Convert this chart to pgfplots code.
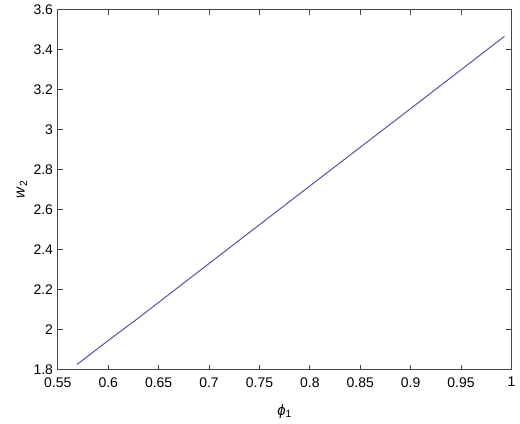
\documentclass[border=0pt]{standalone}
\usepackage{pgfplots}
\pgfplotsset{compat=1.18}
\usepackage{fontspec}
\setmainfont{Liberation Sans}
\definecolor{linecol}{RGB}{88,84,160}
\definecolor{axcol}{RGB}{70,70,70}
\begin{document}
\fontsize{14}{16}\selectfont
\begin{tikzpicture}
\begin{axis}[
    scale only axis,
    width=455pt, height=361pt,
    xmin=0.55, xmax=1.0,
    ymin=1.8, ymax=3.6,
    xtick={0.55,0.6,0.65,0.7,0.75,0.8,0.85,0.9,0.95,1.0},
    ytick={1.8,2,2.2,2.4,2.6,2.8,3,3.2,3.4,3.6},
    xticklabels={0.55,0.6,0.65,0.7,0.75,0.8,0.85,0.9,0.95,1},
    yticklabels={1.8,2,2.2,2.4,2.6,2.8,3,3.2,3.4,3.6},
    tick align=inside,
    major tick length=5pt,
    axis line style={axcol, line width=1pt},
    every tick/.style={axcol, line width=0.8pt},
    tick label style={font=\fontsize{14}{16}\selectfont, text=black},
    xticklabel style={yshift=-3pt},
    label style={font=\fontsize{15}{17}\selectfont},
    xlabel={\textit{ϕ}\textsubscript{1}},
    ylabel={\textit{w}\textsubscript{2}},
    xlabel style={yshift=-8pt},
    ylabel style={yshift=-3pt},
    /pgf/number format/assume math mode=true,
]
\addplot[linecol, line width=1pt] coordinates {
    (0.569,1.825) (0.600,1.945) (0.630,2.058) (0.700,2.330)
    (0.800,2.718) (0.900,3.105) (0.993,3.466)
};
\end{axis}
\path (current axis.south west) ++(-58pt,-52pt) rectangle ++(520pt,421pt);
\end{tikzpicture}
\end{document}
